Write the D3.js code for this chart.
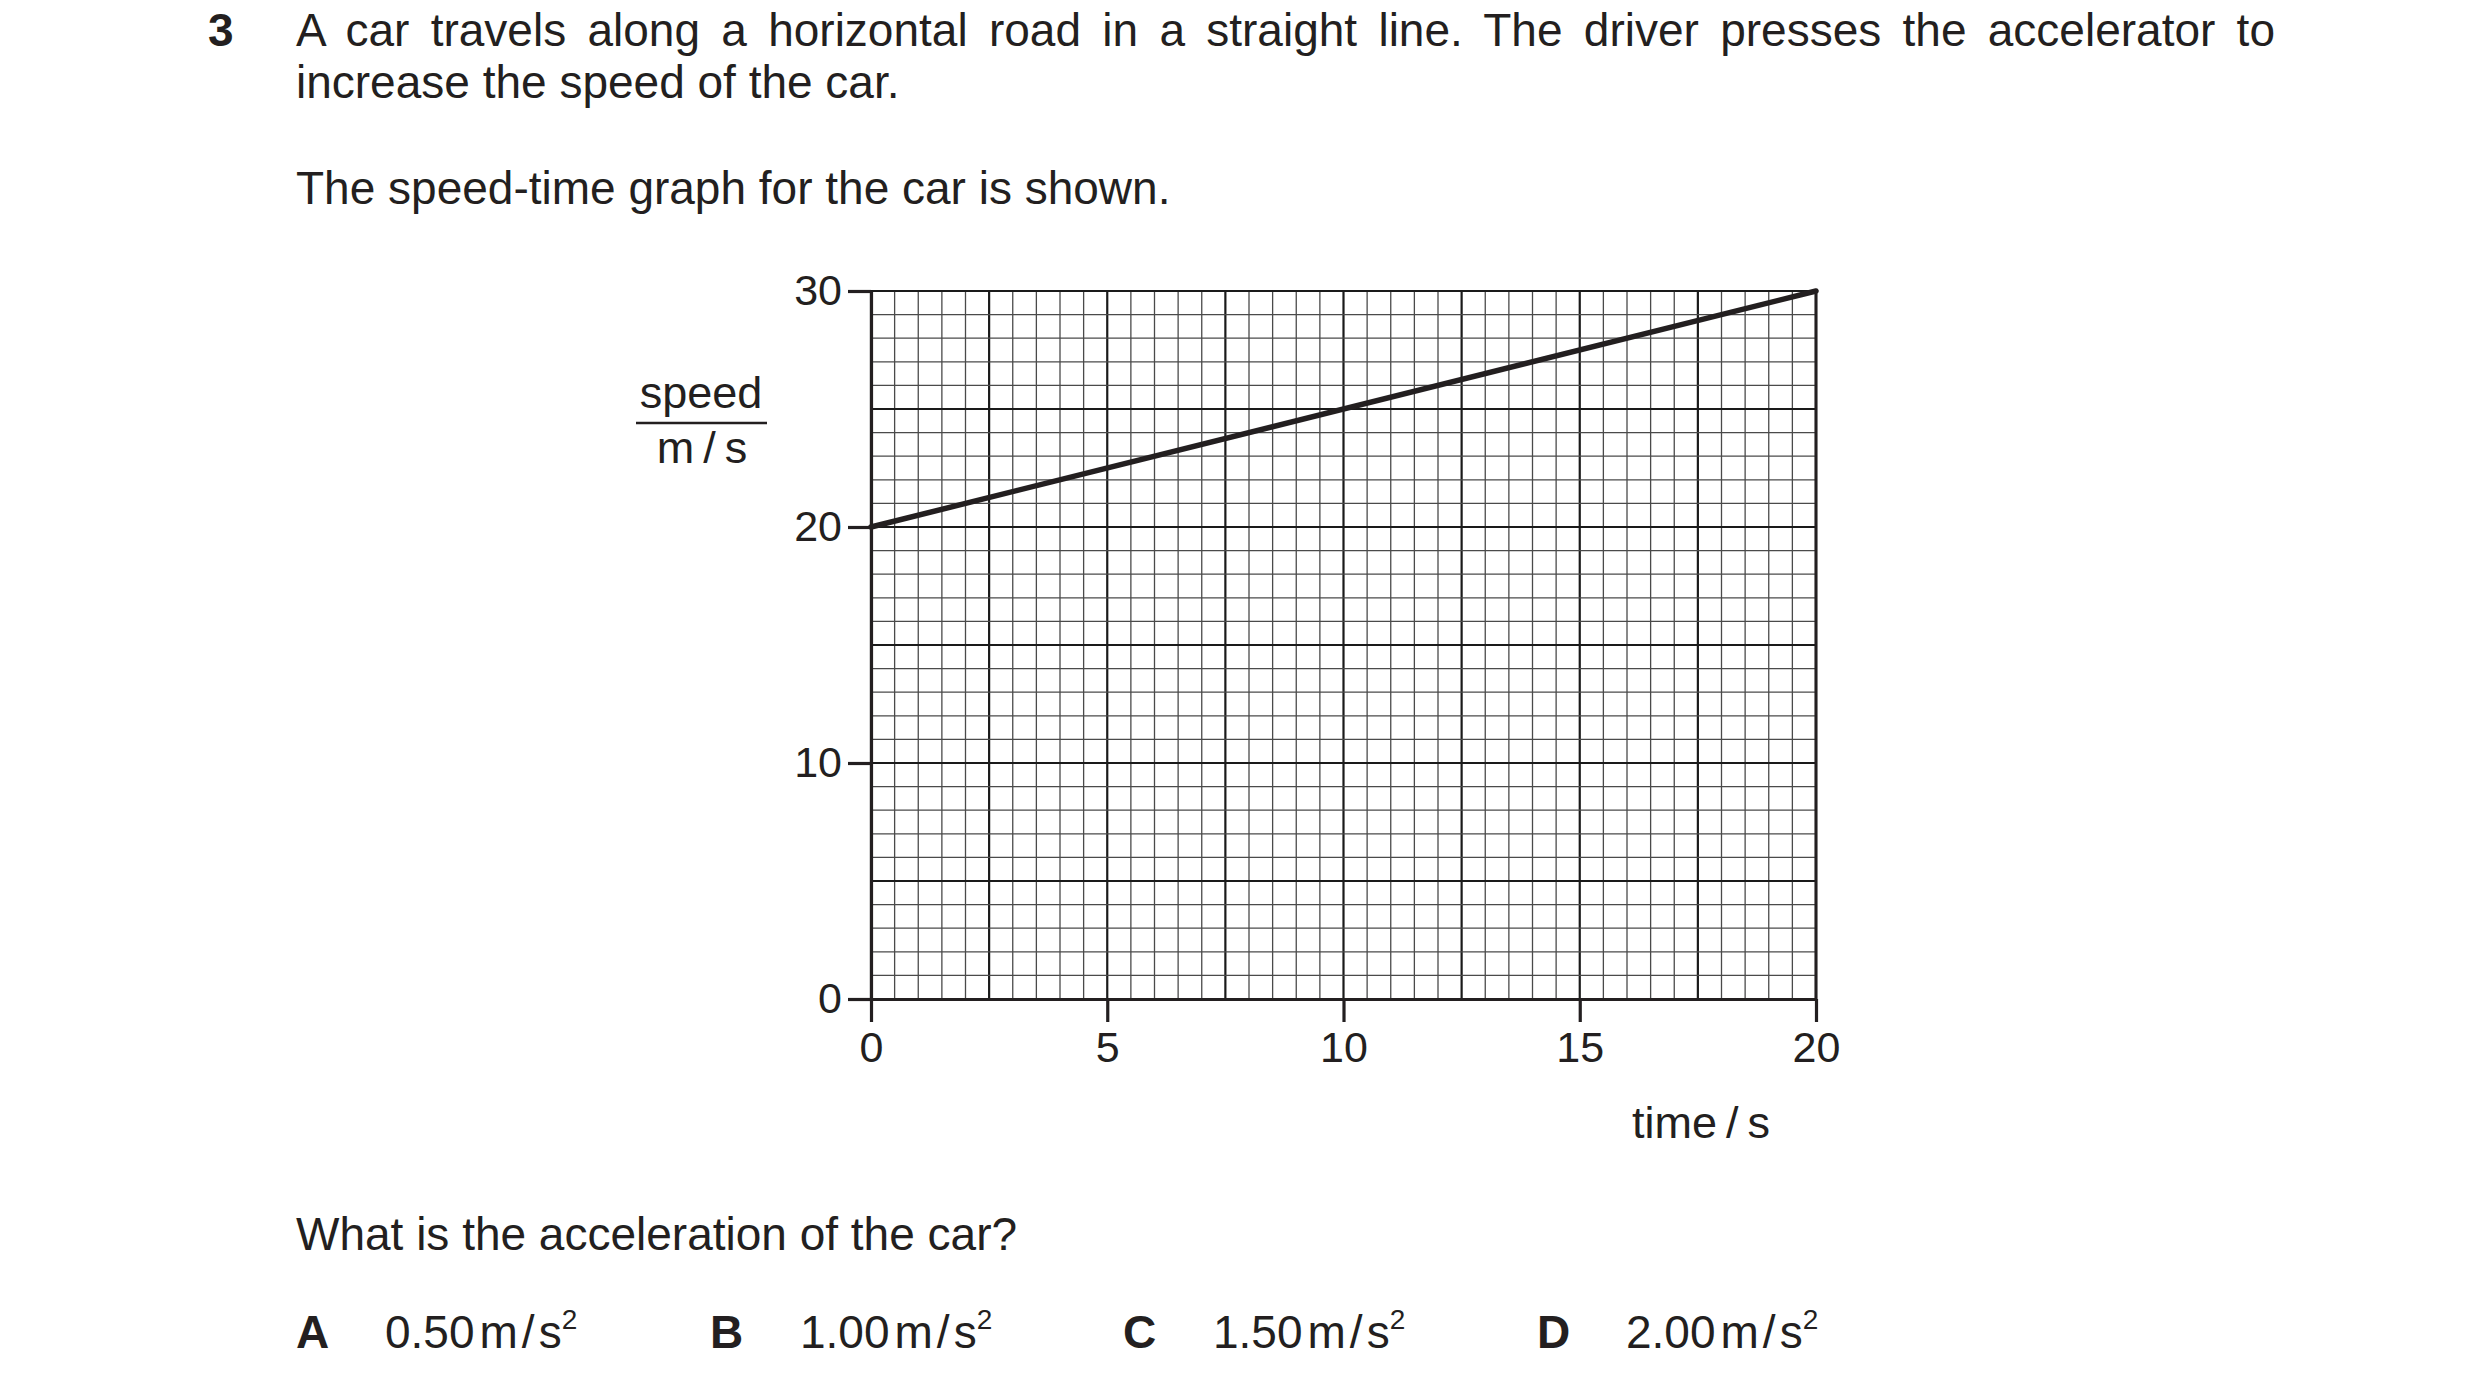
<!DOCTYPE html>
<html>
<head>
<meta charset="utf-8">
<script src="https://cdn.jsdelivr.net/npm/d3@7"></script>
<style>
  html, body { margin: 0; padding: 0; background: #fff; }
  svg { display: block; }
  text { font-family: "Liberation Sans", Arial, sans-serif; fill: #231f20; }
</style>
</head>
<body>
<svg id="chart" width="2480" height="1388"></svg>
<script>
// ---- data ----
const timeValues = [0, 20];          // s
const speedValues = [20, 30];        // m/s
const xTickValues = [0, 5, 10, 15, 20];
const yTickValues = [0, 10, 20, 30];
const xDomain = [0, 20];
const yDomain = [0, 30];
const xMinorStep = 0.5, xMajorStep = 2.5;
const yMinorStep = 1, yMajorStep = 5;
const questionNumber = "3";
const questionLines = [
  "A car travels along a horizontal road in a straight line. The driver presses the accelerator to",
  "increase the speed of the car."
];
const introText = "The speed-time graph for the car is shown.";
const askText = "What is the acceleration of the car?";
const optionLetters = ["A", "B", "C", "D"];
const optionValues = ["0.50", "1.00", "1.50", "2.00"];

// ---- layout ----
const svg = d3.select("#chart");
const ink = "#231f20";
const x = d3.scaleLinear().domain(xDomain).range([871, 1816]);
const y = d3.scaleLinear().domain(yDomain).range([999, 291]);

// question text
svg.append("text").attr("x", 208).attr("y", 46).attr("font-size", 46)
  .attr("font-weight", "bold").text(questionNumber);
const l1 = svg.append("text").attr("x", 296).attr("y", 46).attr("font-size", 46)
  .text(questionLines[0]);
const natural = l1.node().getComputedTextLength();
const nSpaces = questionLines[0].split(" ").length - 1;
l1.attr("word-spacing", ((2275 - 296) - natural) / nSpaces);
svg.append("text").attr("x", 296).attr("y", 98).attr("font-size", 46).text(questionLines[1]);
svg.append("text").attr("x", 296).attr("y", 204).attr("font-size", 46).text(introText);

// grid
const grid = svg.append("g");
const eps = 1e-9;
const isMajor = (v, step) => Math.abs(v / step - Math.round(v / step)) < 1e-6;
d3.range(xDomain[0], xDomain[1] + eps, xMinorStep).forEach(v => {
  grid.append("line")
    .attr("x1", x(v)).attr("x2", x(v)).attr("y1", y(yDomain[0])).attr("y2", y(yDomain[1]))
    .attr("stroke", isMajor(v, xMajorStep) ? "#1a1a1a" : "#4a4a4a")
    .attr("stroke-width", isMajor(v, xMajorStep) ? 2.2 : 1.3);
});
d3.range(yDomain[0], yDomain[1] + eps, yMinorStep).forEach(v => {
  grid.append("line")
    .attr("y1", y(v)).attr("y2", y(v)).attr("x1", x(xDomain[0])).attr("x2", x(xDomain[1]))
    .attr("stroke", isMajor(v, yMajorStep) ? "#1a1a1a" : "#4a4a4a")
    .attr("stroke-width", isMajor(v, yMajorStep) ? 2.2 : 1.3);
});
// right border
grid.append("line").attr("x1", x(xDomain[1])).attr("x2", x(xDomain[1]))
  .attr("y1", y(yDomain[0])).attr("y2", y(yDomain[1]) - 1)
  .attr("stroke", ink).attr("stroke-width", 3);

// axes
const yAxis = svg.append("g").attr("transform", `translate(${x(0)},0)`)
  .call(d3.axisLeft(y).tickValues(yTickValues).tickSize(23).tickSizeOuter(0).tickPadding(6));
const xAxis = svg.append("g").attr("transform", `translate(0,${y(0)})`)
  .call(d3.axisBottom(x).tickValues(xTickValues).tickSize(23).tickSizeOuter(0).tickPadding(9));
[xAxis, yAxis].forEach(g => {
  g.attr("font-size", 43).attr("font-family", "Liberation Sans, Arial, sans-serif");
  g.select(".domain").attr("stroke", ink).attr("stroke-width", 3.2);
  g.selectAll(".tick line").attr("stroke", ink).attr("stroke-width", 3.2);
  g.selectAll(".tick text").attr("fill", ink);
});

// data line
const lineData = timeValues.map((t, i) => ({ t, v: speedValues[i] }));
svg.append("path").datum(lineData)
  .attr("d", d3.line().x(d => x(d.t)).y(d => y(d.v)))
  .attr("fill", "none").attr("stroke", ink).attr("stroke-width", 5.5)
  .attr("stroke-linecap", "round");

// axis labels
svg.append("text").attr("x", 701).attr("y", 408).attr("font-size", 45)
  .attr("text-anchor", "middle").text("speed");
svg.append("line").attr("x1", 636).attr("x2", 767).attr("y1", 423).attr("y2", 423)
  .attr("stroke", ink).attr("stroke-width", 2.5);
svg.append("text").attr("x", 702).attr("y", 463).attr("font-size", 45)
  .attr("text-anchor", "middle").text("m\u2009/\u2009s");
svg.append("text").attr("x", 1701).attr("y", 1138).attr("font-size", 45)
  .attr("text-anchor", "middle").text("time\u2009/\u2009s");

// question
svg.append("text").attr("x", 296).attr("y", 1250).attr("font-size", 46).text(askText);
const letterX = [296, 710, 1123, 1537];
const valueX = [385, 800, 1213, 1626];
optionLetters.forEach((L, i) => {
  svg.append("text").attr("x", letterX[i]).attr("y", 1348).attr("font-size", 46)
    .attr("font-weight", "bold").text(L);
  const t = svg.append("text").attr("x", valueX[i]).attr("y", 1348).attr("font-size", 46);
  t.append("tspan").text(optionValues[i]);
  t.append("tspan").attr("dx", 5).text("m");
  t.append("tspan").attr("dx", 4).text("/");
  t.append("tspan").attr("dx", 4).text("s");
  t.append("tspan").attr("font-size", 28).attr("dy", -19).text("2");
});
</script>
</body>
</html>
